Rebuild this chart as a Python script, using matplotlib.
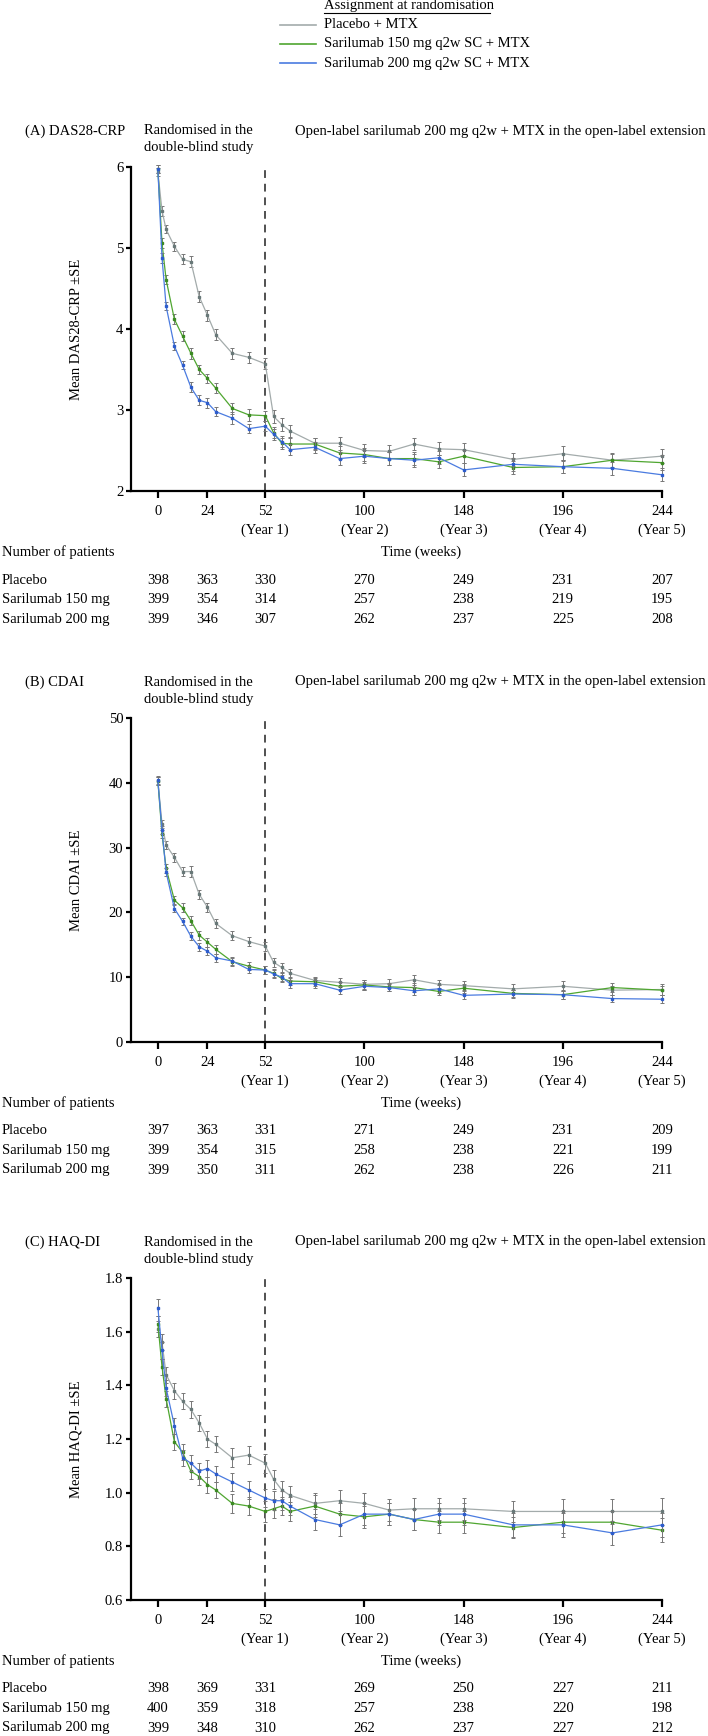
# primero llamamos las librerias que necesitaremos
import matplotlib
matplotlib.use("Agg")
import matplotlib.pyplot as plt
import matplotlib.transforms as mtransforms
from matplotlib.lines import Line2D

plt.rcParams['font.family'] = ['Liberation Serif', 'DejaVu Serif']
plt.rcParams['font.size'] = 10.5

# semanas de cada visita
weeks = [0, 2, 4, 8, 12, 16, 20, 24, 28, 36, 44, 52,
         56, 60, 64, 76, 88, 100, 112, 124, 136, 148, 172, 196, 220, 244]

groups = ["Placebo + MTX", "Sarilumab 150 mg q2w SC + MTX", "Sarilumab 200 mg q2w SC + MTX"]
table_groups = ["Placebo", "Sarilumab 150 mg", "Sarilumab 200 mg"]
table_weeks = [0, 24, 52, 100, 148, 196, 244]
tick_labels = ["0", "24", "52", "100", "148", "196", "244"]
year_labels = ["", "", "(Year 1)", "(Year 2)", "(Year 3)", "(Year 4)", "(Year 5)"]

# (A) DAS28-CRP
das_pbo = [5.94, 5.46, 5.23, 5.02, 4.86, 4.83, 4.40, 4.17, 3.93, 3.70, 3.65, 3.57,
           2.92, 2.82, 2.74, 2.59, 2.59, 2.50, 2.49, 2.58, 2.52, 2.51, 2.39, 2.46, 2.38, 2.43]
das_150 = [5.97, 5.06, 4.61, 4.12, 3.91, 3.70, 3.50, 3.39, 3.27, 3.02, 2.94, 2.93,
           2.72, 2.59, 2.58, 2.58, 2.47, 2.45, 2.40, 2.40, 2.36, 2.43, 2.29, 2.30, 2.38, 2.35]
das_200 = [5.98, 4.88, 4.28, 3.79, 3.55, 3.28, 3.12, 3.09, 2.98, 2.90, 2.77, 2.80,
           2.70, 2.61, 2.51, 2.54, 2.40, 2.43, 2.40, 2.38, 2.41, 2.26, 2.33, 2.30, 2.28, 2.20]
das_pbo_se = [0.05, 0.06, 0.05, 0.06, 0.06, 0.07, 0.07, 0.07, 0.07, 0.07, 0.07, 0.07,
              0.08, 0.08, 0.07, 0.07, 0.08, 0.08, 0.08, 0.08, 0.08, 0.08, 0.08, 0.09, 0.09, 0.09]
das_150_se = [0.05, 0.06, 0.06, 0.06, 0.06, 0.07, 0.06, 0.06, 0.06, 0.07, 0.07, 0.06,
              0.07, 0.07, 0.07, 0.07, 0.08, 0.08, 0.08, 0.08, 0.08, 0.08, 0.08, 0.08, 0.08, 0.09]
das_200_se = [0.05, 0.06, 0.05, 0.05, 0.05, 0.06, 0.06, 0.06, 0.06, 0.07, 0.06, 0.06,
              0.07, 0.07, 0.07, 0.07, 0.08, 0.08, 0.08, 0.08, 0.08, 0.08, 0.08, 0.08, 0.08, 0.08]
das_n = [[398, 363, 330, 270, 249, 231, 207],
         [399, 354, 314, 257, 238, 219, 195],
         [399, 346, 307, 262, 237, 225, 208]]

# (B) CDAI
cdai_pbo = [40.3, 33.7, 30.4, 28.5, 26.3, 26.3, 22.8, 20.8, 18.3, 16.4, 15.5, 14.8,
            12.3, 11.5, 10.6, 9.5, 9.2, 8.9, 9.0, 9.6, 8.9, 8.7, 8.2, 8.6, 8.0, 8.1]
cdai_150 = [40.3, 32.1, 26.8, 21.9, 20.7, 18.7, 16.5, 15.4, 14.3, 12.4, 11.7, 11.1,
            10.6, 9.8, 9.4, 9.3, 8.6, 8.8, 8.5, 8.4, 7.8, 8.3, 7.5, 7.3, 8.4, 8.0]
cdai_200 = [40.4, 32.7, 26.2, 20.6, 18.6, 16.3, 14.7, 14.0, 13.0, 12.5, 11.2, 11.1,
            10.5, 10.0, 9.0, 9.0, 8.0, 8.6, 8.4, 7.9, 8.2, 7.2, 7.4, 7.3, 6.7, 6.6]
cdai_pbo_se = [0.6, 0.6, 0.6, 0.7, 0.7, 0.8, 0.7, 0.7, 0.7, 0.7, 0.7, 0.7,
               0.7, 0.7, 0.7, 0.6, 0.7, 0.7, 0.7, 0.8, 0.7, 0.7, 0.7, 0.8, 0.7, 0.8]
cdai_150_se = [0.6, 0.6, 0.7, 0.6, 0.7, 0.7, 0.7, 0.7, 0.7, 0.6, 0.6, 0.6,
               0.6, 0.6, 0.6, 0.6, 0.6, 0.7, 0.6, 0.7, 0.6, 0.7, 0.6, 0.7, 0.7, 0.7]
cdai_200_se = [0.6, 0.6, 0.6, 0.6, 0.6, 0.6, 0.6, 0.6, 0.6, 0.6, 0.6, 0.6,
               0.6, 0.6, 0.6, 0.6, 0.6, 0.6, 0.6, 0.6, 0.6, 0.6, 0.6, 0.6, 0.6, 0.6]
cdai_n = [[397, 363, 331, 271, 249, 231, 209],
          [399, 354, 315, 258, 238, 221, 199],
          [399, 350, 311, 262, 238, 226, 211]]

# (C) HAQ-DI
haq_pbo = [1.61, 1.56, 1.44, 1.38, 1.34, 1.31, 1.26, 1.20, 1.18, 1.13, 1.14, 1.11,
           1.05, 1.01, 0.99, 0.96, 0.97, 0.96, 0.935, 0.94, 0.94, 0.94, 0.93, 0.93, 0.93, 0.93]
haq_150 = [1.63, 1.47, 1.35, 1.19, 1.15, 1.08, 1.06, 1.03, 1.01, 0.96, 0.95, 0.93,
           0.94, 0.95, 0.93, 0.95, 0.92, 0.91, 0.92, 0.90, 0.89, 0.89, 0.87, 0.89, 0.89, 0.86]
haq_200 = [1.69, 1.53, 1.39, 1.25, 1.13, 1.11, 1.08, 1.09, 1.07, 1.04, 1.01, 0.98,
           0.97, 0.97, 0.95, 0.90, 0.88, 0.92, 0.92, 0.90, 0.92, 0.92, 0.88, 0.88, 0.85, 0.88]
haq_pbo_se = [0.03, 0.03, 0.03, 0.03, 0.03, 0.03, 0.03, 0.03, 0.03, 0.035, 0.035, 0.035,
              0.035, 0.035, 0.035, 0.04, 0.04, 0.04, 0.04, 0.04, 0.04, 0.04, 0.04, 0.045, 0.045, 0.05]
haq_150_se = [0.03, 0.03, 0.03, 0.03, 0.03, 0.03, 0.03, 0.03, 0.03, 0.035, 0.035, 0.04,
              0.035, 0.035, 0.035, 0.04, 0.04, 0.04, 0.04, 0.04, 0.04, 0.04, 0.04, 0.04, 0.04, 0.045]
haq_200_se = [0.03, 0.03, 0.03, 0.03, 0.03, 0.03, 0.03, 0.03, 0.03, 0.035, 0.035, 0.035,
              0.035, 0.035, 0.035, 0.04, 0.04, 0.04, 0.04, 0.04, 0.04, 0.04, 0.045, 0.045, 0.045, 0.045]
haq_n = [[398, 369, 331, 269, 250, 227, 211],
         [400, 359, 318, 257, 238, 220, 198],
         [399, 348, 310, 262, 237, 227, 212]]

line_colors = ["#a3abab", "#4fa630", "#4a7be0"]
marker_colors = ["#687878", "#3b8a22", "#2d5ccc"]
err_color = "#777777"

W, H = 708, 1736
fig = plt.figure(figsize=(W / 100, H / 100), dpi=100)


def fx(px):
    return px / W


def fy(py):
    return 1 - py / H


# leyenda manual arriba
fig.text(fx(324), fy(6), "Assignment at randomisation", ha="left", va="center")
fig.add_artist(Line2D([fx(324), fx(490)], [fy(13), fy(13)], transform=fig.transFigure,
                      color="black", lw=0.8))
for i, g in enumerate(groups):
    yy = [25, 44, 63][i]
    fig.add_artist(Line2D([fx(280), fx(316)], [fy(yy), fy(yy)], transform=fig.transFigure,
                          color=line_colors[i], lw=1.2))
    fig.text(fx(324), fy(yy), g, ha="left", va="center")

panels = [
    dict(title="(A) DAS28-CRP", ylabel="Mean DAS28-CRP \u00b1SE", top=167, bottom=491,
         ylim=(2, 6), yticks=[2, 3, 4, 5, 6], yfmt="{:.0f}",
         series=[das_pbo, das_150, das_200], se=[das_pbo_se, das_150_se, das_200_se], n=das_n),
    dict(title="(B) CDAI", ylabel="Mean CDAI \u00b1SE", top=718, bottom=1042,
         ylim=(0, 50), yticks=[0, 10, 20, 30, 40, 50], yfmt="{:.0f}",
         series=[cdai_pbo, cdai_150, cdai_200], se=[cdai_pbo_se, cdai_150_se, cdai_200_se], n=cdai_n),
    dict(title="(C) HAQ-DI", ylabel="Mean HAQ-DI \u00b1SE", top=1278, bottom=1600,
         ylim=(0.6, 1.8), yticks=[0.6, 0.8, 1.0, 1.2, 1.4, 1.6, 1.8], yfmt="{:.1f}",
         series=[haq_pbo, haq_150, haq_200], se=[haq_pbo_se, haq_150_se, haq_200_se], n=haq_n),
]

left_px, right_px = 131, 662

for p in panels:
    top, bottom = p["top"], p["bottom"]
    ax = fig.add_axes([fx(left_px), fy(bottom), (right_px - left_px) / W, (bottom - top) / H])
    ax.set_xlim(-13, 244)
    ax.set_ylim(*p["ylim"])

    for i in range(3):
        ax.errorbar(weeks, p["series"][i], yerr=p["se"][i], fmt="none", ecolor=err_color,
                    elinewidth=0.7, capsize=1.2, capthick=0.7, zorder=2 + i, clip_on=False)
        ax.plot(weeks, p["series"][i], color=line_colors[i], lw=0.9, marker="s", ms=2.0,
                mfc=marker_colors[i], mec=marker_colors[i], zorder=3 + i, clip_on=False)

    ax.axvline(52, color="#505050", lw=1.4, dashes=(4, 3), zorder=1)

    for s in ["top", "right"]:
        ax.spines[s].set_visible(False)
    for s in ["left", "bottom"]:
        ax.spines[s].set_linewidth(1.6)

    ax.set_yticks(p["yticks"])
    ax.set_yticklabels([p["yfmt"].format(v) for v in p["yticks"]])
    ax.tick_params(axis="y", length=3.6, width=1.6, pad=2)
    ax.set_xticks(table_weeks)
    ax.set_xticklabels(tick_labels)
    ax.tick_params(axis="x", length=5, width=1.6, pad=5)

    fig.text(fx(76), fy((top + bottom) / 2), p["ylabel"], rotation=90, ha="center", va="center")

    # textos de encabezado
    fig.text(fx(25), fy(top - 36), p["title"], ha="left", va="center")
    fig.text(fx(144), fy(top - 36), "Randomised in the", ha="left", va="center")
    fig.text(fx(144), fy(top - 19), "double-blind study", ha="left", va="center")
    fig.text(fx(295), fy(top - 36), "Open-label sarilumab 200 mg q2w + MTX in the open-label extension",
             ha="left", va="center")

    # tabla de pacientes
    trans = mtransforms.blended_transform_factory(ax.transData, fig.transFigure)
    for j, w in enumerate(table_weeks):
        if year_labels[j]:
            ax.text(w, fy(bottom + 39), year_labels[j], transform=trans, ha="center", va="center")
    fig.text(fx(2), fy(bottom + 61), "Number of patients", ha="left", va="center")
    fig.text(fx(421), fy(bottom + 61), "Time (weeks)", ha="center", va="center")
    for i, g in enumerate(table_groups):
        yy = bottom + 89 + 19.5 * i
        fig.text(fx(2), fy(yy), g, ha="left", va="center")
        for j, w in enumerate(table_weeks):
            ax.text(w, fy(yy), str(p["n"][i][j]), transform=trans, ha="center", va="center")

fig.savefig("out.png", dpi=100)
